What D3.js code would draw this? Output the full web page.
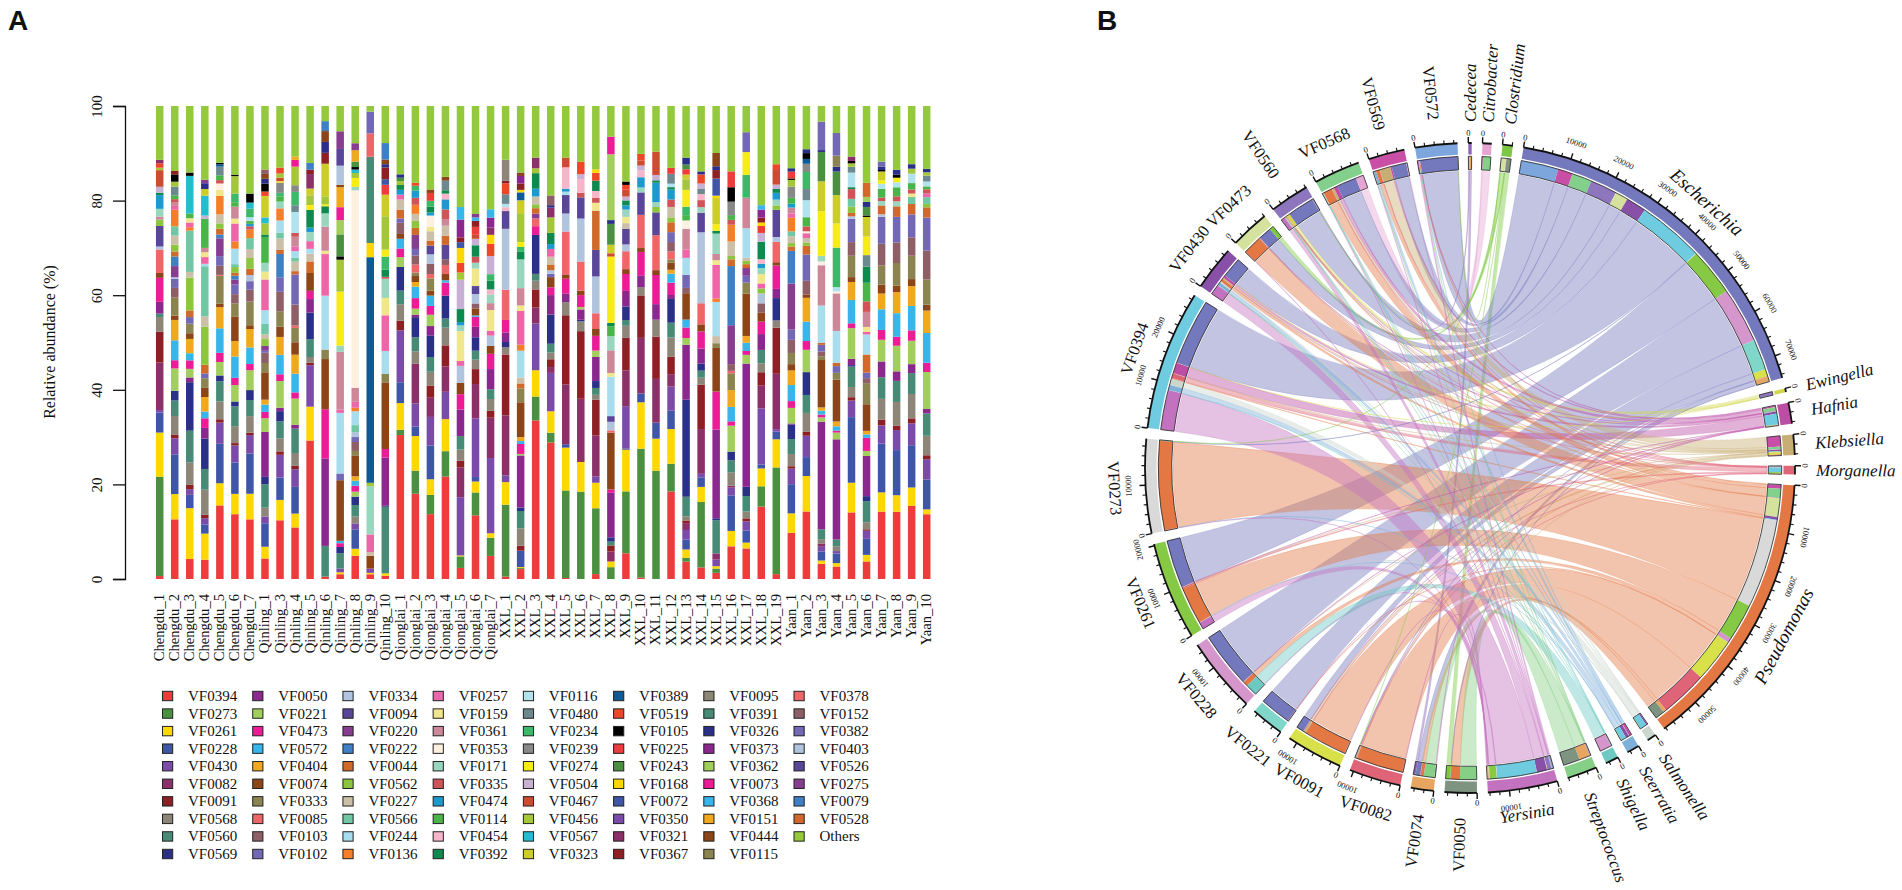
<!DOCTYPE html>
<html><head><meta charset="utf-8">
<script src="https://cdn.jsdelivr.net/npm/d3@7"></script>
<style>html,body{margin:0;padding:0;background:#fff}svg{display:block}text{font-family:"Liberation Serif",serif;fill:#111}</style>
</head><body><svg id="c" width="1902" height="890"></svg>
<script>
const seriesNames=["VF0394","VF0273","VF0261","VF0228","VF0430","VF0082","VF0091","VF0568","VF0560","VF0569",
"VF0050","VF0221","VF0473","VF0572","VF0404","VF0074","VF0333","VF0085","VF0103","VF0102",
"VF0334","VF0094","VF0220","VF0222","VF0044","VF0562","VF0227","VF0566","VF0244","VF0136",
"VF0257","VF0159","VF0361","VF0353","VF0171","VF0335","VF0474","VF0114","VF0454","VF0392",
"VF0116","VF0480","VF0234","VF0239","VF0274","VF0504","VF0467","VF0456","VF0567","VF0323",
"VF0389","VF0519","VF0105","VF0225","VF0243","VF0168","VF0072","VF0350","VF0321","VF0367",
"VF0095","VF0391","VF0326","VF0373","VF0362","VF0073","VF0368","VF0151","VF0444","VF0115",
"VF0378","VF0152","VF0382","VF0403","VF0526","VF0275","VF0079","VF0528","Others"];
const seriesColors=["#EE3B3B","#4A9040","#FFD700","#3F56A8","#7A4BA8","#8B3068","#8E1F24","#8C8578","#478A76","#2A2F88",
"#8B288E","#A1CE5C","#EC1C96","#38B5EA","#F0A91F","#8B4518","#8C8450","#F06568","#8E5F67","#7268B5",
"#B0C4DE","#5A4698","#873E90","#3F7FC4","#D0692A","#8CC63F","#CBBFA8","#6FC7A4","#A8DDEE","#F57F29",
"#EE66A8","#F0E68C","#CD8799","#FDF0E0","#9AD6BE","#CF5357","#1C9AD0","#49B549","#F8B4C8","#0F8A4E",
"#B2E2EE","#6E8890","#3CB868","#888888","#F7EC16","#C8B0D4","#CC4C32","#A4C639","#26BCD0","#CDCD2A",
"#0E5A96","#EE4628","#000000","#EE3B3B","#4A9040","#FFD700","#3F56A8","#7A4BA8","#8B3068","#8E1F24",
"#8C8578","#478A76","#2A2F88","#8B288E","#A1CE5C","#EC1C96","#38B5EA","#F0A91F","#8B4518","#8C8450",
"#F06568","#8E5F67","#7268B5","#B0C4DE","#5A4698","#873E90","#3F7FC4","#D0692A","#94C83D"];
const sampleNames=["Chengdu_1","Chengdu_2","Chengdu_3","Chengdu_4","Chengdu_5","Chengdu_6","Chengdu_7",
"Qinling_1","Qinling_3","Qinling_4","Qinling_5","Qinling_6","Qinling_7","Qinling_8","Qinling_9","Qinling_10",
"Qionglai_1","Qionglai_2","Qionglai_3","Qionglai_4","Qionglai_5","Qionglai_6","Qionglai_7",
"XXL_1","XXL_2","XXL_3","XXL_4","XXL_5","XXL_6","XXL_7","XXL_8","XXL_9","XXL_10","XXL_11","XXL_12","XXL_13","XXL_14","XXL_15","XXL_16","XXL_17","XXL_18","XXL_19",
"Yaan_1","Yaan_2","Yaan_3","Yaan_4","Yaan_5","Yaan_6","Yaan_7","Yaan_8","Yaan_9","Yaan_10"];
// each sample: series index, percent, series index, percent ... read bottom to top
const chengduBars=[
[0,.6,1,20.3,2,9,3,4.1,4,.5,5,9.7,6,6.3,7,3,8,.7,10,2.4,12,4.9,15,1,17,4.8,20,.6,21,4.2,25,1.3,32,.6,34,1.6,36,2.8,39,.5,45,1.2,46,3.4,47,.5,51,.9,58,.7,78,11],
[0,12.3,2,5.2,3,8.2,4,3.3,6,.7,7,3.9,8,3.2,9,2,11,4.6,12,1.7,13,4.1,14,4.2,15,.9,16,3.7,18,2,19,1.9,20,.3,22,2.3,23,2,24,1,25,1.4,26,1.9,27,1.9,29,3.4,30,.8,32,.7,35,.7,37,.8,41,1.8,47,1,52,1.5,59,.7,78,13.4],
[0,4.2,2,10.7,3,2.8,4,1.2,6,.9,7,4.7,8,6.7,9,10.2,10,1,11,1.8,12,1.8,13,1.5,14,3,15,1.2,16,2,19,1.4,24,1.4,25,6.9,26,1.2,27,8.7,29,.7,30,1,31,.9,37,1,48,7.9,52,.7,78,14],
[0,4,2,5.4,3,1.9,4,1.3,6,.7,7,5.2,8,4.3,9,6.3,10,2.2,12,2,13,1.4,14,3,15,1.9,16,2,19,1,24,1.8,25,7.9,26,2.1,27,10.4,28,.5,30,1.4,31,1,32,.9,37,6,45,.7,48,4.1,49,1.4,62,1.2,75,.7,78,15.3],
[0,15.3,2,4.6,3,8.2,4,4.4,6,.7,7,3.7,8,4.2,9,1.2,11,2.8,12,1.9,13,5.1,14,4.4,15,.7,16,5.8,17,.2,18,1.9,19,2,22,3.7,23,.8,24,1.2,25,1.1,26,1.9,29,3.8,31,1.3,33,1.3,35,.7,37,1,41,1.8,52,.3,50,.5,78,11.8],
[0,13.4,2,4.2,3,6.5,4,3.5,6,.5,7,3.5,8,4.1,9,1,11,3.4,12,1.5,13,4.4,14,3.2,15,5,16,2.8,18,1.9,19,2,22,1,23,.8,24,.6,25,1.2,27,.6,28,3.2,29,1.5,30,3.7,31,1,32,2.5,37,.9,42,1.8,47,3.6,52,.3,78,14.2],
[0,12.6,2,5.4,3,8.5,4,3.9,6,.5,7,3.5,8,3.4,9,2.1,11,4.2,12,1.3,13,3.5,14,3.9,15,.8,16,5,18,2.5,19,1.8,20,1.3,24,1.3,25,2.3,26,1.9,27,2.3,29,1.8,35,.7,36,.5,37,.6,40,.8,42,1.8,48,1.3,52,1.9,78,18.5]];
const qinlingBars=[
[0,4.2,2,2.4,3,4.8,4,1.4,7,1.8,8,4.8,9,1.5,10,9.2,11,2.8,12,1.3,13,1.5,14,1,15,5.6,16,1.9,18,2.1,19,.4,22,1,25,1.4,26,1,27,2.1,28,2.8,30,6.3,31,1.6,34,1.8,37,5.3,39,.5,47,2.3,48,1.2,49,4.4,52,1.6,51,.9,62,1,68,1,71,.9,78,13],
[0,12.1,2,4.2,3,4.6,4,4.7,6,.7,7,2.7,8,3.5,9,2.1,10,.7,11,5.5,12,1.4,13,4,14,3.7,15,2.1,16,3.2,18,4,19,3,23,4.8,24,.9,26,2.3,27,1.2,28,2.5,29,2.5,34,1.4,37,1,42,.8,43,2.1,44,.3,46,.7,47,.9,51,1.2,78,12.7],
[0,10.8,2,2.9,3,5.6,4,3.7,6,.7,7,2.7,8,5.1,10,.8,11,5.5,12,1.3,13,3.9,14,4,15,2.6,16,3,17,.5,18,4.4,19,6.3,24,.7,26,2,27,.8,28,1.4,30,1,32,2,35,.8,40,4.4,41,1.4,42,2.8,43,1.4,47,3.9,65,1.4,67,.7,78,10.6],
[0,28.7,2,7,4,8.6,6,.5,7,1.2,8,3.7,9,5.5,10,2.8,12,1.7,15,3.7,24,2.4,26,1.6,28,1,30,1.6,34,1.9,36,.9,39,3.7,44,1,47,2,49,1.4,58,3,59,.9,76,1.4,78,11.8],
[0,.5,8,6.5,10,18.5,12,10.4,15,10.6,16,2,28,11.4,30,8.8,31,.7,32,5.1,34,2.8,39,1.5,44,.4,47,1.7,49,6.9,59,2.3,62,2.3,68,2.3,76,2.1,78,3.2],
[0,1,2,.4,9,1.3,8,3.2,4,.8,12,.8,13,.5,15,12.7,19,1.4,28,12.7,30,.7,32,12.1,34,1.3,44,11.3,47,6.7,52,.7,54,4.6,64,3,65,2.7,67,4.2,68,.5,73,4,74,3.5,75,3.7,78,5.3],
[0,4.7,2,1.4,3,3.9,4,1.2,7,1.4,8,2.3,9,1.7,11,1,12,1.2,13,1,14,.9,15,4.1,16,1,18,1.8,19,1,20,1,27,1.4,28,2.8,29,.7,30,1.2,32,2.8,33,39.8,34,.7,44,1.8,47,1,48,.7,52,.5,54,1.1,67,2.3,75,1.4,78,7.5],
[0,1,2,.3,4,.9,15,2.7,26,.8,30,3.7,34,10.2,47,.7,50,47.6,55,3,61,18.2,70,4.9,72,4.6,78,1.2],
[0,.7,2,.5,9,.2,8,14.2,10,10.3,12,1.8,15,14.2,16,1.8,28,4.9,30,7.6,31,3.7,34,4.1,35,.4,39,1.5,42,2.8,44,1.5,47,7.1,49,4.6,53,2.1,56,1.2,59,2.5,62,.7,68,1,76,3.5,78,7.9]];
const qionglaiBars=[
[0,29.7,1,1.1,2,5.5,3,4.3,4,10.7,6,2,7,3.4,8,2.8,9,4.9,11,2,12,1.8,13,2,15,1,18,2.3,19,.9,24,1.8,26,2.1,30,1,36,1,39,1,47,.8,54,.7,62,.7,78,14.1],
[0,17,1,4.6,2,6.9,3,1.9,4,4.6,5,7.9,7,2.5,8,2.8,9,4,10,.5,11,1.2,12,2.1,13,2.3,14,.9,15,1.2,16,.7,17,1.6,18,1.8,19,1.3,22,2.8,24,1.4,25,1.4,26,1.4,29,1.8,35,1.4,36,1.4,42,1,51,.6,78,15.3],
[0,13.2,1,3.9,2,3.2,3,6.9,4,5.8,5,3.9,6,2.5,7,2.8,8,3,9,4.4,10,1.9,11,2.3,12,1.8,13,2.1,15,1,16,2.5,17,.9,18,2.1,20,1.9,21,1.8,24,1,26,1.9,31,.9,33,2.3,36,.6,39,1.2,42,1.2,53,1.6,68,.7,78,17],
[0,21.4,1,5.3,2,6.7,4,5.7,5,5.3,6,4.4,7,3.7,8,1.9,9,4.8,12,2.7,13,.5,15,1.3,17,1.9,18,1.2,21,3,24,1.9,26,2.1,32,1.4,35,2,36,2.1,38,1.2,39,.7,41,2,68,.8,78,14.8],
[0,2.3,1,2.4,2,.2,4,12.1,5,6.2,6,1.4,7,2.3,8,2.8,10,5.5,12,3.2,15,2.4,20,3.5,30,1,31,6.2,34,1.2,36,.7,39,2.7,45,6.1,47,1.5,51,2,55,3.1,56,1.2,59,1,63,3.7,66,2.6,78,21],
[0,12.8,1,4.6,2,2.2,3,.9,4,11.8,5,6.9,6,3,7,1.9,8,1.8,9,2.7,10,2.1,12,2,13,.3,15,1.4,18,1,20,1.9,21,1.6,31,3.5,34,1.2,35,1.2,39,2.3,45,1.3,46,.8,53,1.6,59,1.2,66,.7,75,.7,78,21.7],
[0,4.7,1,3.7,2,.9,4,15.3,5,8.2,6,1.4,7,2.4,8,2,10,4.1,12,3.1,15,1.6,20,2.1,30,1,31,4.2,32,1.4,34,1.8,38,1,39,1.8,42,1.3,45,3.7,51,2.5,55,1.8,58,1.5,63,2,66,1.7,78,21]];
const xxlBars=[
[0,.5,1,15,2,4.7,4,1.4,5,12.5,6,12.7,7,1.5,9,1.1,10,2,12,2.6,17,6.3,20,12.7,21,3.7,38,.8,40,.7,41,2,51,2.3,59,.5,60,4.4,78,11.2],
[0,2,1,.2,2,.2,3,3.3,6,1,7,3.5,8,3.5,9,.7,10,10.5,11,.3,12,2,13,.6,14,.8,15,7,16,2.8,24,1,26,1.2,28,5.4,29,1.2,30,6.8,31,1.1,32,3.5,34,5.8,39,1.5,42,1,44,1,47,5.8,49,2.6,50,1.6,55,.5,59,1.3,63,1.5,68,.7,78,13.4],
[0,32.6,1,4.9,2,5.4,4,9.6,5,3.3,6,3.7,7,1.8,8,1.4,9,8,12,1.8,17,1.6,22,1,24,1.1,25,.8,26,1.6,36,1.6,39,3.2,47,1,58,2.2,78,10.6],
[0,28.1,1,2,2,4.4,4,7.9,5,1.2,6,1.6,7,1.4,8,1.8,9,6,10,4,12,1.6,15,2.1,19,.7,20,.7,24,1.2,26,1.6,30,1.6,36,1,39,2.3,47,3.2,58,2,62,.5,71,2,78,18.4],
[0,.2,1,18,2,8.8,3,.7,5,12.3,6,14.2,7,2.7,10,1.8,12,3,15,.9,17,8.8,20,3.7,21,3.8,28,.7,36,.6,38,4.4,46,2,78,10.6],
[1,17.7,2,6,5,12.8,6,13.7,7,2,9,.3,10,2.1,11,.5,12,2.4,15,.9,17,5.9,20,8.7,21,4.3,35,.9,38,2.8,45,1,51,2.5,78,11.3],
[0,1,1,13.4,2,5.2,4,1.3,5,8.3,6,7.3,7,1,8,1.4,9,1.4,10,4.9,11,1.3,12,3,15,1.4,17,3.2,20,7.5,21,5.4,24,8,31,1.6,35,1,38,1.4,39,2.1,51,1.6,55,.7,78,12.9],
[1,2.5,2,1.2,5,2.1,6,1.3,8,.8,9,.9,10,9.4,12,.7,15,12,17,.5,20,1.8,21,1.2,28,8.3,31,.8,32,4.8,34,3,37,2.1,39,.7,44,14,46,.7,49,1.8,54,4.4,62,.8,64,13.9,65,3.7,78,6.5],
[0,5.3,1,12.8,2,8.6,3,.2,4,8.8,5,7.4,6,6.7,7,2.5,8,1.2,9,2.8,10,3.2,12,3.5,15,1,17,3.7,20,1.4,21,3.2,26,1.2,31,1.3,34,1.5,36,.9,39,1,45,.8,46,1.4,51,1,52,.7,78,15.6],
[0,.3,1,26.4,2,9.5,3,1.8,5,11.4,6,8.7,7,1.7,10,2.3,12,4.9,15,.8,17,6.8,21,4.6,34,1,36,2.1,38,1.4,45,1,46,1,51,1.4,78,9.8],
[1,22.3,2,6.6,3,3.3,5,9,6,8.7,7,3.5,10,3.2,12,6,15,1,17,7.2,21,4.7,25,1.1,34,1,36,4,39,.5,45,1.1,46,4.8,78,9.4],
[0,17.7,1,5.6,2,7,3,3.7,4,4.9,5,2.5,6,3.5,7,3.9,8,3,9,4.8,10,.8,12,2.5,13,1.8,14,.8,15,1.4,16,.7,17,1.6,18,1.9,19,2,24,2,25,1,26,2.1,35,1.5,36,2,39,.5,40,.7,41,2,53,1.2,78,12.5],
[0,3.3,1,.7,2,1.6,3,1.9,4,1.8,5,1.3,6,.5,7,.8,8,3.7,9,18.4,10,10.4,11,1.3,12,2,13,1.5,15,5,18,1,19,2.5,28,3.2,30,1.6,32,3.9,33,1.6,37,1,42,1.6,44,3.2,47,2,49,.9,53,1,54,.9,62,1.3,78,9.8],
[0,2.3,1,13,2,3,3,1.9,4,.7,5,8.9,6,8.8,7,1.4,8,1.4,9,1.4,10,3,12,3.4,15,1.4,17,4.2,20,14.1,21,3.9,34,1.1,38,1.2,35,1.4,41,1.1,45,1,51,1.8,62,.6,78,13],
[0,1.3,1,.9,2,.5,4,1.4,5,1.3,8,7,9,.4,10,18.7,12,8,15,9.2,16,1,26,1.5,28,7.2,29,.7,30,7.1,31,1,32,1.3,34,4.3,39,.6,44,1.4,49,5.5,55,.5,56,3.6,59,1.8,62,.8,68,2.8,78,9.9],
[0,6.8,2,3.2,3,7.4,4,1.6,5,.4,7,2.8,8,2.5,9,1.8,11,5.4,12,.9,13,3,14,3.5,16,3.5,17,.5,18,1.4,22,8.1,23,12.3,24,1.4,25,.7,26,3,29,3.5,35,1,37,1,43,2.8,52,3,53,3.3,78,13.6],
[0,6.3,2,1.2,3,2.5,4,1.9,6,.6,7,1.4,8,3.2,9,1.9,10,25.4,11,1.8,12,.8,13,1.7,14,1.4,15,8.7,16,2.3,19,1.4,22,1.6,24,.8,25,.7,28,6.1,26,.6,32,6.3,44,4.7,42,4.7,72,4.1,78,5.4],
[0,14.6,1,4.1,2,3.6,3,.8,4,11.3,5,4.6,6,2.7,7,1.8,8,2.7,10,3.2,12,2.5,15,1.8,18,1.9,20,2,25,1,30,1,31,1.9,34,1.2,36,.9,38,.9,39,3.5,45,1.8,53,1.4,55,.7,59,1,63,1.6,66,.9,78,20],
[0,1,1,22,2,5.8,3,1.6,4,.5,5,11.4,6,9.5,7,1.5,9,4.6,10,1.9,12,4.8,15,.7,17,4.2,20,1,21,5.6,25,.9,34,1.2,36,1.4,39,.8,45,.9,46,3.2,51,1,78,12]];
const yaanBars=[
[0,9.5,2,4,3,6,4,3.2,6,.5,7,2.5,8,3.1,9,3,10,.2,11,3.2,12,1.4,13,3.3,14,3,15,1.3,16,2.3,18,2.7,19,2.1,22,9.5,23,6.7,24,.9,25,.7,26,1.4,27,1,29,2.8,30,.9,32,1.2,36,.8,37,1.2,43,2.3,47,1.4,52,.3,53,1.4,62,.7,78,12.8],
[0,13.9,2,7.3,3,3.9,4,4.4,6,.8,7,3.9,8,3.7,9,4.7,11,4.6,12,1.8,13,4,14,4.9,15,.7,18,2.8,19,5.4,24,1.8,25,.7,26,.9,30,1,33,.4,35,1,37,1.9,40,3.5,41,2.3,42,3.5,43,1.7,50,1,52,1.2,62,.8,78,8.9],
[0,3.2,2,.7,3,1.9,4,1,5,.7,7,.9,8,2.1,10,22.7,11,.9,12,.6,13,.8,14,.7,15,10,16,.8,18,1,19,1.4,24,.4,28,7.9,32,8.5,33,.8,34,1.2,44,9.4,49,6.3,54,6.2,62,.4,72,6,78,3.3],
[0,2.6,2,.7,3,2,4,.5,7,1,8,1.4,10,20.8,11,1.4,12,.4,13,.9,14,1,15,8.7,16,1.4,19,1.4,24,.7,28,6.6,32,7.8,33,.4,42,8.2,40,.9,44,5,49,5.9,54,4.9,62,1,72,4.7,69,2.3,78,5.6],
[0,13.7,2,6.1,3,13.5,4,3.4,6,.7,7,2.1,8,4.2,9,.3,10,1.3,11,6.3,12,1,13,4.8,14,3.7,15,1,16,4.4,18,2.8,19,4.8,20,.5,24,.7,25,1.3,27,1.6,35,2,39,.4,40,3,41,1.2,47,.7,52,.5,58,.9,78,10.4],
[0,3.5,2,1.3,3,3.2,4,1.6,6,.3,7,1.4,8,4.2,9,1,10,8,11,1,12,2.6,13,.7,14,.7,15,5.3,16,4.2,18,1,19,1.1,24,3.6,28,4,30,.5,31,1,32,3,35,2.1,37,3.7,39,3.2,41,2.3,44,3.7,49,3.9,52,.3,54,1.7,62,1,64,1,77,2.8,78,15.3],
[0,13.7,2,3.9,3,9.9,4,3.7,6,1.2,7,4.2,8,4.4,10,3.2,11,4.4,12,2,13,4.2,14,3.2,15,1.8,16,3.9,18,4.4,19,5.5,20,.5,24,1.8,34,.9,35,.7,37,1.8,40,1,44,.7,49,1.8,52,.3,62,.7,72,1,78,11.3],
[0,13.4,2,3.3,3,9,4,4,6,.9,7,4.7,8,4.2,10,1.9,11,5.1,12,1.8,13,4.7,14,4.2,15,1.3,16,4.5,18,4.1,19,5.1,24,2.1,34,1,35,1,37,1.8,40,1,44,.9,52,.6,62,1,78,12.7],
[0,14.7,2,3.7,3,8.5,4,4.4,6,1,7,4.9,8,4.2,10,1.8,11,4.7,12,2.1,13,4.9,14,4,15,1.4,16,4.7,18,3.7,19,4.6,24,2.1,27,1.4,31,.7,35,.8,37,1.3,40,1.9,47,1,62,.9,78,11.7],
[0,13.3,2,1,3,6.1,4,4.2,6,.8,7,4,8,4.6,10,.9,11,7.6,12,1.9,13,6.1,14,4.6,15,1.2,16,5.2,18,5.9,19,6.8,24,2.1,25,.7,27,1.4,35,.8,30,.8,37,.6,40,1,41,1.2,47,.7,62,.7,78,12.9]];
const yTickValues=[0,20,40,60,80,100];

const sectorNames=["Cedecea","Citrobacter","Clostridium","Escherichia","Ewingella","Hafnia","Klebsiella","Morganella","Pseudomonas","Salmonella","Seerratia","Shigella","Streptococcus","Yersinia","VF0050","VF0074","VF0082","VF0091","VF0221","VF0228","VF0261","VF0273","VF0394","VF0430","VF0473","VF0560","VF0568","VF0569","VF0572"];
const sectorColors=["#8B65B5","#E6A6D4","#7DC843","#7478BD","#D3D64A","#BE4DA5","#C9AE74","#DE6478","#E37845","#CBD7CE","#7FB0D9","#6EC9C3","#86CF86","#C372BF","#7E9480","#E6A561","#DF6477","#D8E04A","#80D6C9","#D596CB","#85C945","#D9D9D9","#6FCBE0","#8950A8","#D5E29D","#8D76BD","#83CF8C","#C94FA6","#7CA6DC"];
const linkSpecies=["Cedecea","Cedecea","Citrobacter","Citrobacter","Clostridium","Clostridium",
"Escherichia","Escherichia","Escherichia","Escherichia","Escherichia","Escherichia","Escherichia","Escherichia","Escherichia","Escherichia","Escherichia","Escherichia",
"Ewingella","Hafnia","Hafnia","Hafnia","Hafnia","Klebsiella","Klebsiella","Klebsiella","Klebsiella","Klebsiella","Morganella","Morganella",
"Pseudomonas","Pseudomonas","Pseudomonas","Pseudomonas","Pseudomonas","Pseudomonas","Pseudomonas","Pseudomonas","Pseudomonas","Pseudomonas","Pseudomonas","Pseudomonas",
"Salmonella","Salmonella","Seerratia","Seerratia","Seerratia","Shigella","Streptococcus","Streptococcus",
"Yersinia","Yersinia","Yersinia","Yersinia","Yersinia","Yersinia"];
const linkVF=["VF0074","VF0560","VF0568","VF0569","VF0473","VF0050",
"VF0572","VF0569","VF0568","VF0560","VF0473","VF0430","VF0394","VF0261","VF0228","VF0221","VF0091","VF0074",
"VF0560","VF0569","VF0568","VF0430","VF0394","VF0569","VF0568","VF0430","VF0091","VF0082","VF0394","VF0261",
"VF0569","VF0568","VF0473","VF0430","VF0273","VF0261","VF0228","VF0221","VF0091","VF0082","VF0074","VF0050",
"VF0430","VF0394","VF0569","VF0430","VF0394","VF0228","VF0074","VF0050",
"VF0572","VF0560","VF0430","VF0394","VF0261","VF0074"];
const linkCounts=[500,200,1700,200,900,1000,
8100,3200,4300,5800,2800,4400,14300,10300,12000,6700,1600,1000,
700,300,800,500,2300,2300,500,300,500,200,1000,300,
800,1900,4100,600,19200,8000,1000,100,9400,10200,700,2000,
300,1400,500,700,1100,2500,2300,3600,
300,900,2200,8600,1500,200];
// the many very small links that show as thin lines through the middle
const thinSpecies=["Pseudomonas","Pseudomonas","Pseudomonas","Escherichia","Escherichia","Escherichia",
"Yersinia","Yersinia","Yersinia","Yersinia","Yersinia","Yersinia","Yersinia","Yersinia",
"Morganella","Morganella","Morganella","Morganella","Morganella","Morganella","Morganella",
"Klebsiella","Klebsiella","Klebsiella","Klebsiella","Klebsiella","Klebsiella",
"Hafnia","Hafnia","Hafnia","Hafnia","Hafnia","Hafnia","Hafnia",
"Seerratia","Seerratia","Seerratia","Seerratia","Seerratia",
"Salmonella","Salmonella","Salmonella","Salmonella",
"Streptococcus","Streptococcus","Streptococcus","Streptococcus","Streptococcus",
"Shigella","Shigella","Shigella","Shigella",
"Clostridium","Clostridium","Clostridium","Clostridium","Ewingella","Ewingella"];
const thinVF=["VF0572","VF0560","VF0394","VF0082","VF0050","VF0273",
"VF0473","VF0568","VF0082","VF0273","VF0228","VF0091","VF0569","VF0221",
"VF0568","VF0430","VF0473","VF0560","VF0569","VF0091","VF0082",
"VF0394","VF0473","VF0560","VF0261","VF0228","VF0074",
"VF0560","VF0473","VF0091","VF0082","VF0228","VF0261","VF0572",
"VF0572","VF0273","VF0568","VF0560","VF0261",
"VF0568","VF0091","VF0560","VF0261",
"VF0568","VF0569","VF0572","VF0430","VF0560",
"VF0568","VF0430","VF0394","VF0560",
"VF0572","VF0273","VF0082","VF0560","VF0394","VF0430"];
const thinCounts=[120,100,140,90,80,110,
100,90,120,80,100,90,80,70,
70,80,60,70,80,60,60,
90,70,80,70,60,60,
80,70,70,60,80,70,60,
60,70,60,70,60,
50,60,50,50,
60,70,60,50,60,
60,50,70,50,
60,70,50,60,40,40];
const radialLabels=["Cedecea","Citrobacter","Clostridium","Ewingella","Hafnia","Klebsiella","Morganella","Salmonella","Seerratia","Shigella","Streptococcus","VF0050","VF0074","VF0560","VF0569","VF0572"];

const svg=d3.select("#c");
svg.selectAll(".pl").data([["A",8],["B",1097]]).join("text").attr("class","pl")
 .attr("x",d=>d[1]).attr("y",30).text(d=>d[0]).style("font-family","'Liberation Sans',sans-serif").style("font-weight","700").style("font-size","28px");

/* ---------- panel A ---------- */
const allBars=[...chengduBars,...qinlingBars,...qionglaiBars,...xxlBars,...yaanBars];
const rows=allBars.map((pairs,i)=>{const r={sample:sampleNames[i]};seriesNames.forEach(k=>r[k]=0);
 for(let j=0;j<pairs.length;j+=2)r[seriesNames[pairs[j]]]+=pairs[j+1];return r;});
const stacked=d3.stack().keys(seriesNames).offset(d3.stackOffsetExpand)(rows);
const x=d3.scalePoint().domain(sampleNames).range([159.7,926.7]);
const y=d3.scaleLinear().domain([0,100]).range([579,106]);
const color=d3.scaleOrdinal(seriesNames,seriesColors);
const barW=7.5;
const gA=svg.append("g");
gA.selectAll("g.s").data(stacked).join("g").attr("class","s").attr("fill",d=>color(d.key))
 .selectAll("rect").data(d=>d.filter(v=>v[1]>v[0])).join("rect")
 .attr("x",d=>x(d.data.sample)-barW/2).attr("width",barW)
 .attr("y",d=>y(d[1]*100)).attr("height",d=>y(d[0]*100)-y(d[1]*100));
const yAxis=d3.axisLeft(y).tickValues(yTickValues).tickSize(12).tickPadding(10);
const ya=gA.append("g").attr("transform","translate(125,0)").call(yAxis);
ya.select(".domain").attr("stroke","#111").attr("stroke-width",1.3);
ya.selectAll(".tick line").attr("stroke","#111").attr("stroke-width",1.3);
ya.selectAll(".tick text").attr("x",0).attr("y",0).attr("dy",0).attr("text-anchor","middle")
 .attr("transform","translate(-23,0) rotate(-90)").style("font-family","'Liberation Serif',serif").style("font-size","15px").attr("fill","#111");
gA.append("text").attr("transform","translate(55,342) rotate(-90)").attr("text-anchor","middle").style("font-size","16px").text("Relative abundance (%)");
gA.selectAll("text.xl").data(sampleNames).join("text").attr("class","xl")
 .attr("transform",d=>`translate(${x(d)+4.5},594) rotate(-90)`).attr("text-anchor","end").style("font-size","14.6px").text(d=>d);
const colX=d3.scaleLinear().domain([0,7]).range([162.5,794]);
const rowY=d3.scaleLinear().domain([0,9]).range([696,854]);
const lg=gA.selectAll("g.lg").data(seriesNames).join("g").attr("class","lg")
 .attr("transform",(d,i)=>`translate(${colX(Math.floor(i/10))},${rowY(i%10)})`);
lg.append("rect").attr("x",0).attr("y",-4.7).attr("width",10.2).attr("height",9.4).attr("fill",d=>color(d)).attr("stroke","#222").attr("stroke-width",1);
lg.append("text").attr("x",25.5).attr("y",5).style("font-size","15px").text(d=>d);

/* ---------- panel B ---------- */
const cx=1470,cy=468,Rtick=325,RoutO=324.5,RoutI=313.5,RinO=311.7,RinI=298.3,Rrib=297;
const pad=1.9,startDeg=-0.3;
const sectorColor=d3.scaleOrdinal(sectorNames,sectorColors);
const links=linkCounts.map((v,i)=>({sp:linkSpecies[i],vf:linkVF[i],v}))
 .concat(thinCounts.map((v,i)=>({sp:thinSpecies[i],vf:thinVF[i],v})));
const totals=new Map(sectorNames.map(n=>[n,0]));
links.forEach(l=>{totals.set(l.sp,totals.get(l.sp)+l.v);totals.set(l.vf,totals.get(l.vf)+l.v);});
const grand=d3.sum(totals.values());
const unitDeg=(360-pad*sectorNames.length)/grand;
const sectors=[];let a=startDeg;
sectorNames.forEach((n,i)=>{const w=totals.get(n)*unitDeg;sectors.push({name:n,i,start:a,end:a+w,value:totals.get(n)});a+=w+pad;});
const rad=d=>d*Math.PI/180;
const polar=(r,deg)=>[r*Math.sin(rad(deg)),-r*Math.cos(rad(deg))];
const byName=new Map(sectors.map(s=>[s.name,s]));
// partners are stacked in each sector going counter-clockwise round the circle from the sector itself
sectors.forEach(s=>{
 const mine=links.filter(l=>l.sp===s.name||l.vf===s.name).map(l=>({l,other:l.sp===s.name?l.vf:l.sp}));
 mine.sort((p,q)=>{const n=sectorNames.length;const dp=(s.i-byName.get(p.other).i+n)%n,dq=(s.i-byName.get(q.other).i+n)%n;return dp-dq;});
 let pos=s.start;
 mine.forEach(m=>{const span=m.l.v*unitDeg;const seg={startAngle:rad(pos),endAngle:rad(pos+span),radius:Rrib};
  if(m.l.sp===s.name)m.l.spSeg=seg;else m.l.vfSeg=seg;s.segs=s.segs||[];s.segs.push({seg,other:m.other});pos+=span;});
});
const gB=svg.append("g").attr("transform",`translate(${cx},${cy})`);
const ribbon=d3.ribbon().radius(Rrib);
gB.append("g").selectAll("path").data(links).join("path")
 .attr("d",l=>ribbon({source:l.spSeg,target:l.vfSeg}))
 .attr("fill",l=>sectorColor(l.sp)).attr("fill-opacity",.44)
 .attr("stroke",l=>sectorColor(l.sp)).attr("stroke-opacity",.45).attr("stroke-width",.5);
const arc=d3.arc();
const sg=gB.append("g").selectAll("g").data(sectors).join("g");
sg.append("path").attr("d",s=>arc({innerRadius:RoutI,outerRadius:RoutO,startAngle:rad(s.start),endAngle:rad(s.end)})).attr("fill",s=>sectorColor(s.name));
sg.selectAll("path.seg").data(s=>s.segs).join("path").attr("class","seg")
 .attr("d",d=>arc({innerRadius:RinI,outerRadius:RinO,startAngle:d.seg.startAngle,endAngle:d.seg.endAngle})).attr("fill",d=>sectorColor(d.other));
sg.append("path").attr("d",s=>arc({innerRadius:RinI,outerRadius:RinO,startAngle:rad(s.start),endAngle:rad(s.end)})).attr("fill","none").attr("stroke","#222").attr("stroke-width",.8);
sg.append("path").attr("d",s=>d3.arc()({innerRadius:Rtick,outerRadius:Rtick,startAngle:rad(s.start),endAngle:rad(s.end)})).attr("fill","none").attr("stroke","#111").attr("stroke-width",1.8);
// ticks every 2000 reads, labels every 10000
sg.each(function(s){
 const g=d3.select(this);
 d3.range(0,s.value+1,2000).forEach(t=>{
  const deg=s.start+t*unitDeg,major=t%10000===0;
  const p0=polar(Rtick,deg),p1=polar(Rtick+(major?6:3.5),deg);
  g.append("line").attr("x1",p0[0]).attr("y1",p0[1]).attr("x2",p1[0]).attr("y2",p1[1]).attr("stroke","#111").attr("stroke-width",major?1.4:1.1);
  if(major){const p=polar(Rtick+(t===0?10:17),deg);
   g.append("text").attr("transform",`translate(${p[0]},${p[1]}) rotate(${deg})`).attr("text-anchor","middle").attr("dy","0.33em").style("font-size","8.5px").text(t);}
 });
});
sg.append("text").each(function(s){
 const mid=((s.start+s.end)/2+360)%360,radial=radialLabels.includes(s.name),italic=!s.name.startsWith("VF");
 let r,rot,anchor;
 if(radial){r=italic?346:350;if(mid<180||mid>359){rot=mid-90;anchor="start";}else{rot=mid+90;anchor="end";}}
 else{r=s.name==="Yersinia"?350:356;rot=(mid>90&&mid<270)?mid-180:mid;anchor="middle";}
 const p=polar(r,mid);
 d3.select(this).attr("transform",`translate(${p[0]},${p[1]}) rotate(${rot})`).attr("text-anchor",anchor).attr("dy","0.33em")
  .style("font-style",italic?"italic":"normal").style("font-size",s.name==="Escherichia"||s.name==="Pseudomonas"?"19px":italic?"17px":"16.5px").text(s.name);
});
</script></body></html>
